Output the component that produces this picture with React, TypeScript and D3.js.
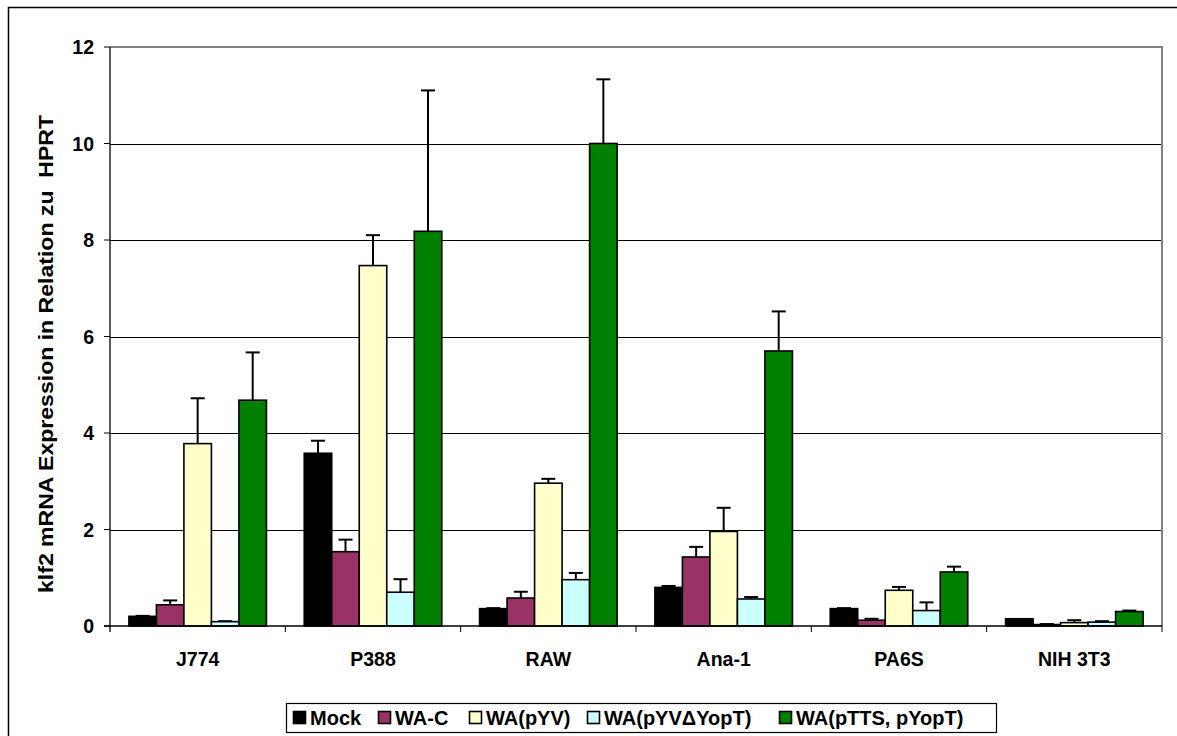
import React from "react";
import * as d3 from "d3";

const categories = ["J774", "P388", "RAW", "Ana-1", "PA6S", "NIH 3T3"];
const seriesNames = ["Mock", "WA-C", "WA(pYV)", "WA(pYVΔYopT)", "WA(pTTS, pYopT)"];
const seriesColors = ["#000000", "#993366", "#FFFFCC", "#CCFFFF", "#008000"];

// values per series, in category order
const mockValues = [0.2, 3.58, 0.36, 0.8, 0.36, 0.15];
const waCValues = [0.44, 1.54, 0.58, 1.43, 0.12, 0.03];
const pYVValues = [3.78, 7.47, 2.96, 1.96, 0.74, 0.07];
const dYopTValues = [0.09, 0.7, 0.96, 0.56, 0.32, 0.08];
const pTTSValues = [4.68, 8.18, 10.0, 5.7, 1.12, 0.3];

// upper error-bar ends
const mockErr = [0.21, 3.84, 0.37, 0.83, 0.37, 0.15];
const waCErr = [0.53, 1.79, 0.71, 1.64, 0.15, 0.04];
const pYVErr = [4.72, 8.1, 3.05, 2.45, 0.81, 0.12];
const dYopTErr = [0.1, 0.97, 1.1, 0.6, 0.49, 0.1];
const pTTSErr = [5.67, 11.1, 11.33, 6.52, 1.23, 0.32];

const yTicks = [0, 2, 4, 6, 8, 10, 12];
const yTitle = "klf2 mRNA Expression in Relation zu  HPRT";

const allValues = [mockValues, waCValues, pYVValues, dYopTValues, pTTSValues];
const allErr = [mockErr, waCErr, pYVErr, dYopTErr, pTTSErr];

export default function App() {
  const W = 1177, H = 736;
  const left = 110, right = 1162, top = 47, bottom = 626;
  const x0 = d3.scaleBand<string>().domain(categories).range([left, right]).paddingInner(0).paddingOuter(0);
  const inner = d3.scaleBand<string>().domain(seriesNames).range([0, x0.bandwidth()]).paddingInner(0).paddingOuter(0.687);
  const y = d3.scaleLinear().domain([0, 12]).range([bottom, top]);
  const font = "'Liberation Sans', Arial, sans-serif";

  const legendSquares = [293, 378, 469, 587, 779];

  return (
    <svg width={W} height={H} style={{ position: "absolute", left: 0, top: 0, background: "#fff" }} fontFamily={font}>
      <rect x={8.5} y={7.5} width={1200} height={760} fill="#fff" stroke="#000" strokeWidth={1.5} />
      {/* gridlines */}
      {yTicks.filter((t) => t > 0 && t < 12).map((t) => (
        <line key={t} x1={left} x2={right} y1={Math.round(y(t)) + 0.5} y2={Math.round(y(t)) + 0.5} stroke="#000" strokeWidth={1} />
      ))}
      {/* plot border top/right */}
      <line x1={left} x2={right} y1={y(12)} y2={y(12)} stroke="#808080" strokeWidth={2} />
      <line x1={right} x2={right} y1={y(12) - 1} y2={bottom} stroke="#808080" strokeWidth={2} />
      {/* bars */}
      {categories.map((c, ci) => (
        <g key={c}>
          {seriesNames.map((s, si) => {
            const bx = (x0(c) as number) + (inner(s) as number);
            const bw = inner.bandwidth();
            const v = allValues[si][ci];
            const e = allErr[si][ci];
            const cx = bx + bw / 2;
            return (
              <g key={s}>
                {e > v && (
                  <g stroke="#000" strokeWidth={2}>
                    <line x1={cx} x2={cx} y1={y(v)} y2={y(e)} />
                    <line x1={cx - 7} x2={cx + 7} y1={y(e)} y2={y(e)} />
                  </g>
                )}
                <rect x={bx} y={y(v)} width={bw} height={bottom - y(v)} fill={seriesColors[si]} stroke="#000" strokeWidth={1.6} />
              </g>
            );
          })}
        </g>
      ))}
      {/* axes */}
      <line x1={left} x2={left} y1={top} y2={bottom + 6} stroke="#000" strokeWidth={1.3} />
      <line x1={left - 6} x2={right} y1={bottom} y2={bottom} stroke="#000" strokeWidth={1.3} />
      {yTicks.map((t) => (
        <g key={t}>
          <line x1={left - 6} x2={left} y1={y(t)} y2={y(t)} stroke="#000" strokeWidth={1} />
          <text x={94} y={y(t)} dy="0.36em" textAnchor="end" fontSize={19.5} fontWeight="bold">{t}</text>
        </g>
      ))}
      {categories.map((c) => (
        <g key={c}>
          <line x1={(x0(c) as number) + x0.bandwidth()} x2={(x0(c) as number) + x0.bandwidth()} y1={bottom} y2={bottom + 6} stroke="#000" strokeWidth={1} />
          <text x={(x0(c) as number) + x0.bandwidth() / 2} y={666} textAnchor="middle" fontSize={19.5} fontWeight="bold">{c}</text>
        </g>
      ))}
      <text transform={`translate(53,354) rotate(-90)`} textAnchor="middle" fontSize={21} fontWeight="bold" textLength={478} lengthAdjust="spacingAndGlyphs" style={{ whiteSpace: "pre" }}>{yTitle}</text>
      {/* legend */}
      <rect x={286.5} y={703.5} width={710} height={29} fill="#fff" stroke="#000" strokeWidth={1.2} />
      {seriesNames.map((s, i) => (
        <g key={s}>
          <rect x={legendSquares[i] + 0.5} y={711.5} width={12} height={12} fill={seriesColors[i]} stroke="#000" strokeWidth={1.6} />
          <text x={legendSquares[i] + 17} y={718} dy="0.36em" fontSize={20} fontWeight="bold">{s}</text>
        </g>
      ))}
    </svg>
  );
}
